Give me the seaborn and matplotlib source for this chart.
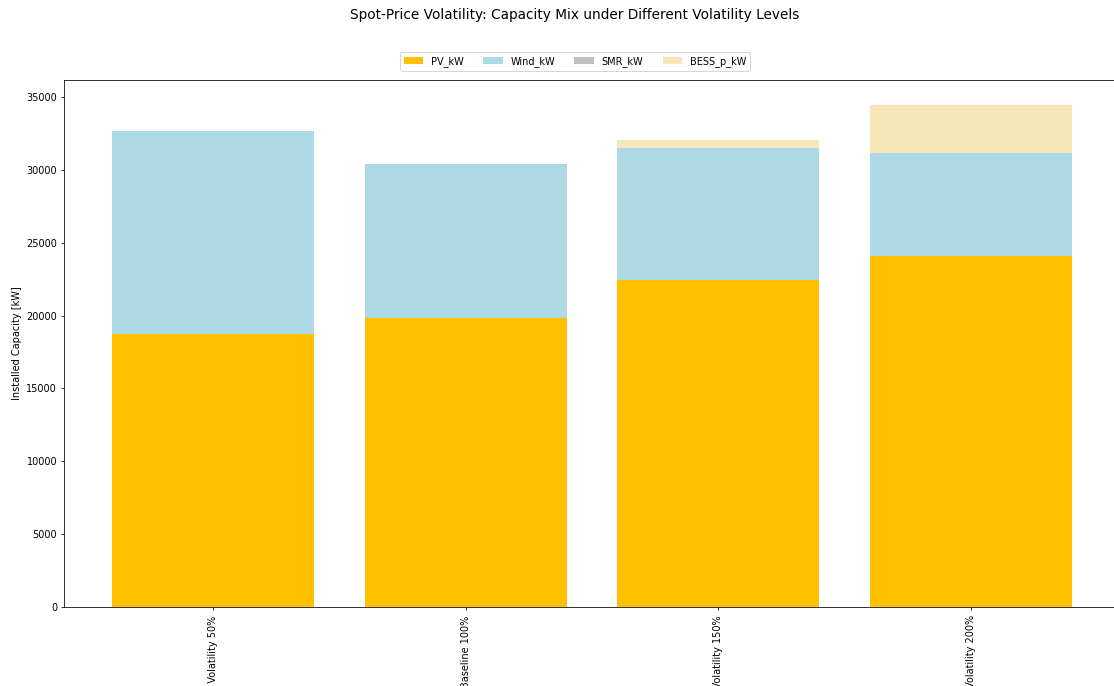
import numpy as np
import pandas as pd
import matplotlib
matplotlib.use("Agg")
import matplotlib.pyplot as plt
import seaborn as sns

# Scenario labels and installed capacities (kW)
scenarios = ["Low Volatility 50%", "Baseline 100%", "High Volatility 150%", "Extreme Volatility 200%"]
pv_kw = [18750, 19850, 22470, 24090]
wind_kw = [13950, 10570, 9030, 7090]
smr_kw = [0, 0, 0, 0]
bess_p_kw = [0, 0, 550, 3270]

series = {
    "PV_kW": pv_kw,
    "Wind_kW": wind_kw,
    "SMR_kW": smr_kw,
    "BESS_p_kW": bess_p_kw,
}
colors = {
    "PV_kW": "#FFC000",
    "Wind_kW": "#ADD8E6",
    "SMR_kW": "#C0C0C0",
    "BESS_p_kW": "#F6E6B8",
}

DPI = 70
fig = plt.figure(figsize=(1114 / DPI, 686 / DPI), dpi=DPI)
ax = fig.add_axes([64 / 1114, 79 / 686, 1056 / 1114, 527 / 686])

bottom = np.zeros(len(scenarios))
handles = []
for name, vals in series.items():
    vals = np.asarray(vals, dtype=float)
    sns.barplot(x=scenarios, y=vals, bottom=bottom, color=colors[name],
                saturation=1, width=0.8, errorbar=None, linewidth=0, ax=ax)
    handles.append(plt.Rectangle((0, 0), 1, 1, facecolor=colors[name], label=name))
    bottom = bottom + vals

n = len(scenarios)
ax.set_xlim(-0.4 - 0.19, n - 1 + 0.4 + 0.19)
ax.set_ylim(0, bottom.max() * 1.05)
ax.set_ylabel("Installed Capacity [kW]")
ax.set_xlabel("")
ax.tick_params(axis="x", labelrotation=90, pad=5)

fig.suptitle("Spot-Price Volatility: Capacity Mix under Different Volatility Levels",
             x=575 / 1114, y=1 - 8 / 686, va="top", fontsize=14)
fig.legend(handles=handles, loc="upper center", ncol=4,
           bbox_to_anchor=(575 / 1114, 1 - 47 / 686))

fig.savefig("out.png", dpi=DPI)
